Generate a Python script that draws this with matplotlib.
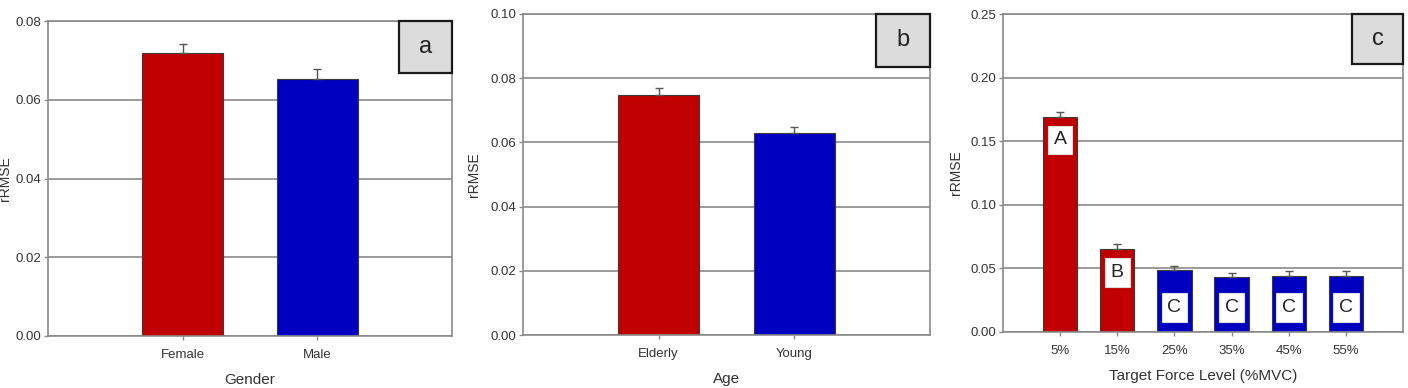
import matplotlib
matplotlib.use("Agg")
import matplotlib.pyplot as plt
from matplotlib.patches import Rectangle

plt.rcParams['font.family'] = ['Liberation Sans', 'DejaVu Sans']

# ---- data ----
gender_cats = ["Female", "Male"]
gender_vals = [0.0719, 0.0653]
gender_err = [0.0023, 0.0025]

age_cats = ["Elderly", "Young"]
age_vals = [0.0748, 0.0629]
age_err = [0.0022, 0.0019]

force_cats = ["5%", "15%", "25%", "35%", "45%", "55%"]
force_vals = [0.169, 0.065, 0.049, 0.043, 0.044, 0.044]
force_err = [0.0040, 0.0040, 0.0030, 0.0035, 0.0040, 0.0040]
force_groups = ["A", "B", "C", "C", "C", "C"]
force_group_y = [0.151, 0.047, 0.019, 0.019, 0.019, 0.019]

RED = "#C00000"
BLUE = "#0000C0"
GRID = "#8a8a8a"
TXT = "#333333"

fig = plt.figure(figsize=(14.08, 3.88), dpi=100)

def style(ax, ymax, ystep, ylabel, xlabel, letter, box_x0, box_y0, ylab_x):
    ax.set_ylim(0, ymax)
    ticks = [round(i * ystep, 4) for i in range(int(round(ymax / ystep)) + 1)]
    ax.set_yticks(ticks)
    ax.set_yticklabels([f"{t:.2f}" for t in ticks])
    ax.yaxis.grid(True, color=GRID, lw=1.2, zorder=0)
    ax.set_axisbelow(True)
    for s in ax.spines.values():
        s.set_color(GRID)
        s.set_linewidth(1.2)
    ax.tick_params(axis='both', colors=GRID, labelcolor=TXT, labelsize=9.5,
                   length=3, width=1.0, direction='out')
    ax.tick_params(axis='x', pad=6)
    ax.tick_params(axis='y', pad=2)
    ax.set_ylabel(ylabel, fontsize=10, color=TXT)
    ax.yaxis.set_label_coords(ylab_x, 0.5)
    ax.set_xlabel(xlabel, fontsize=11, color=TXT, labelpad=9)
    ax.add_patch(Rectangle((box_x0, box_y0), 1.0 - box_x0, 1.0 - box_y0,
                           transform=ax.transAxes, facecolor="#dcdcdc",
                           edgecolor="#1a1a1a", lw=1.6, zorder=5, clip_on=False))
    ax.text((1.0 + box_x0) / 2, (1.0 + box_y0) / 2, letter, transform=ax.transAxes,
            ha='center', va='center', fontsize=17, color="#222222", zorder=6)

def bars(ax, cats, vals, errs, colors):
    x = list(range(len(cats)))
    ax.bar(x, vals, width=0.6, color=colors, edgecolor="#3a3a3a", lw=0.8, zorder=2)
    ax.errorbar(x, vals, yerr=[[0] * len(errs), errs], fmt='none',
                ecolor="#555555", elinewidth=1.0, capsize=3, capthick=1.0, zorder=3)
    ax.set_xticks(x)
    ax.set_xticklabels(cats)
    return x

# panel a
axa = fig.add_axes([48 / 1408, 52 / 388, 404 / 1408, 315 / 388])
bars(axa, gender_cats, gender_vals, gender_err, [RED, BLUE])
axa.set_xlim(-1, 2)
style(axa, 0.08, 0.02, "rRMSE", "Gender", "a", 0.869, 0.835, -0.090)

# panel b
axb = fig.add_axes([523 / 1408, 53 / 388, 407 / 1408, 321 / 388])
bars(axb, age_cats, age_vals, age_err, [RED, BLUE])
axb.set_xlim(-1, 2)
style(axb, 0.10, 0.02, "rRMSE", "Age", "b", 0.867, 0.835, -0.103)

# panel c
axc = fig.add_axes([1003 / 1408, 56 / 388, 400 / 1408, 318 / 388])
colors_c = [RED if g in ("A", "B") else BLUE for g in force_groups]
xc = bars(axc, force_cats, force_vals, force_err, colors_c)
axc.set_xlim(-1, 6)
style(axc, 0.25, 0.05, "rRMSE", "Target Force Level (%MVC)", "c", 0.8725, 0.843, -0.10)
for xi, g, gy in zip(xc, force_groups, force_group_y):
    axc.text(xi, gy, g, ha='center', va='center', fontsize=14, color="#222222",
             zorder=4, bbox=dict(boxstyle='square,pad=0.3', facecolor='white',
                                 edgecolor='#dddddd', lw=0.8))

fig.savefig("out.png", dpi=100)
